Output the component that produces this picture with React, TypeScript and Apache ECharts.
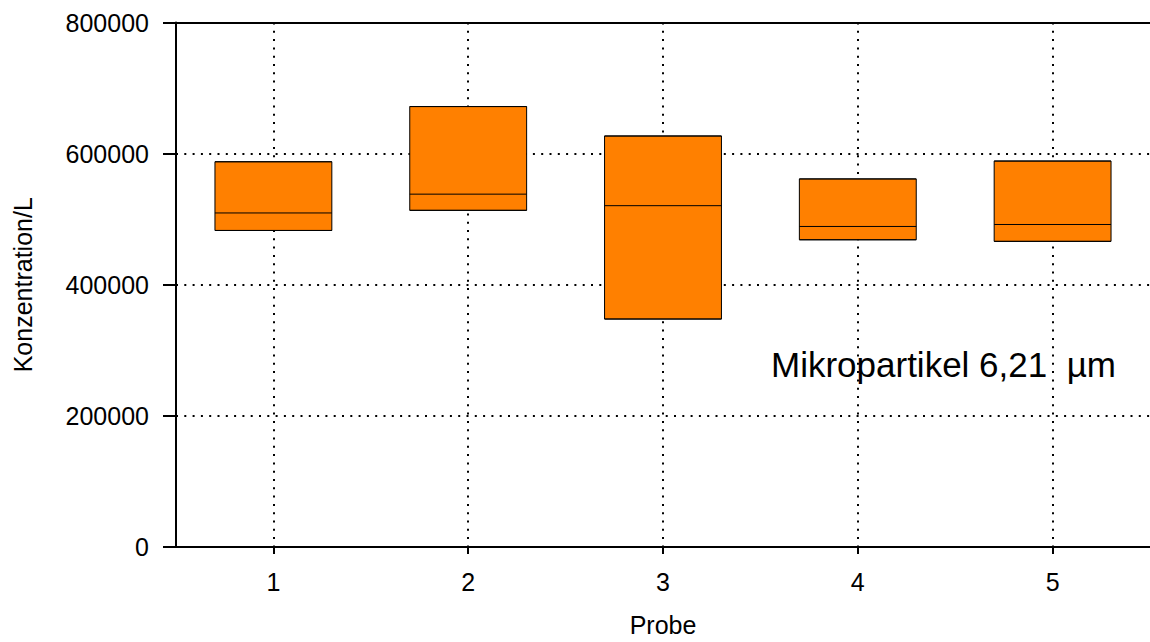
import React, { useEffect, useRef } from "react";
import * as echarts from "echarts";

const categories = ["1", "2", "3", "4", "5"];
const q1Values = [482800, 513500, 347700, 468600, 466200];
const medianValues = [509500, 538200, 520600, 488900, 491900];
const q3Values = [587600, 671800, 626900, 561400, 588700];
const yTicks = { min: 0, max: 800000, interval: 200000 };
const titleText = "Mikropartikel 6,21  µm";
const xName = "Probe";
const yName = "Konzentration/L";

const FONT = "'Liberation Sans', Arial, Helvetica, sans-serif";

export default function App() {
  const ref = useRef<HTMLDivElement>(null);
  useEffect(() => {
    if (!ref.current) return;
    const chart = echarts.init(ref.current, undefined, { renderer: "svg" });
    const boxData = categories.map((_, i) => [
      q1Values[i],
      q1Values[i],
      medianValues[i],
      q3Values[i],
      q3Values[i],
    ]);
    const dotted = { color: "#000", width: 2, type: [2, 6.3] as any };
    chart.setOption({
      animation: false,
      backgroundColor: "#fff",
      textStyle: { fontFamily: FONT, color: "#000" },
      title: {
        text: titleText,
        left: 771,
        top: 347,
        padding: 0,
        textStyle: { fontFamily: FONT, fontSize: 35, fontWeight: "normal", color: "#000" },
      },
      grid: { left: 176, top: 22.5, width: 983, height: 529.2, containLabel: false },
      xAxis: [
        {
          type: "category",
          data: categories,
          boundaryGap: true,
          name: xName,
          nameLocation: "middle",
          nameGap: 65,
          nameTextStyle: { fontFamily: FONT, fontSize: 25, color: "#000", verticalAlign: "top" },
          axisLine: { show: true, lineStyle: { color: "#000", width: 2 } },
          axisTick: { show: true, alignWithLabel: true, length: 7, lineStyle: { color: "#000", width: 2 } },
          axisLabel: { fontFamily: FONT, fontSize: 25, color: "#000", margin: 22 },
          splitLine: { show: true, alignWithLabel: true, lineStyle: dotted } as any,
        },
        {
          type: "category",
          data: categories,
          position: "top",
          axisLine: { show: true, lineStyle: { color: "#000", width: 2 } },
          axisTick: { show: false },
          axisLabel: { show: false },
          splitLine: { show: false },
        },
      ],
      yAxis: {
        type: "value",
        min: yTicks.min,
        max: yTicks.max,
        interval: yTicks.interval,
        name: yName,
        nameLocation: "middle",
        nameGap: 141,
        nameTextStyle: { fontFamily: FONT, fontSize: 25, color: "#000" },
        axisLine: { show: true, lineStyle: { color: "#000", width: 2 } },
        axisTick: { show: true, length: 13, lineStyle: { color: "#000", width: 2 } },
        axisLabel: {
          fontFamily: FONT,
          fontSize: 25,
          color: "#000",
          margin: 27,
          formatter: (v: number) => String(v),
        },
        splitLine: { show: true, lineStyle: dotted },
      },
      series: [
        {
          type: "boxplot",
          data: boxData,
          boxWidth: ["60%", "60%"],
          itemStyle: { color: "#FF8000", borderColor: "#000", borderWidth: 1 },
          emphasis: { disabled: true },
          silent: true,
        },
      ],
    });
    return () => chart.dispose();
  }, []);
  return (
    <div
      ref={ref}
      style={{ position: "fixed", left: 0, top: 0, width: 1150, height: 642 }}
    />
  );
}
